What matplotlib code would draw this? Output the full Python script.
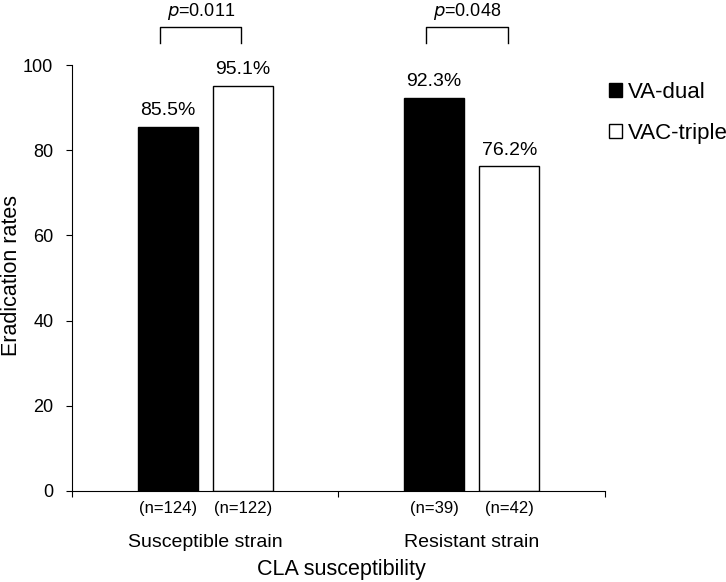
import numpy as np
import matplotlib
matplotlib.use("Agg")
import matplotlib.pyplot as plt
from matplotlib.patches import Patch

plt.rcParams['font.family'] = ['Liberation Sans', 'DejaVu Sans']

groups = ["Susceptible strain", "Resistant strain"]
dual_rates = [85.5, 92.3]
triple_rates = [95.1, 76.2]
dual_n = ["(n=124)", "(n=39)"]
triple_n = ["(n=122)", "(n=42)"]
p_values = ["0.011", "0.048"]

x = np.arange(len(groups))
width = 0.225
off = 0.141

fig = plt.figure(figsize=(7.26, 5.82), dpi=100)
ax = fig.add_axes([0.0992, 0.1564, 0.7341, 0.7319])

ax.bar(x - off, dual_rates, width, color="black", edgecolor="black", linewidth=1)
ax.bar(x + off, triple_rates, width, color="white", edgecolor="black", linewidth=1)

tr = ax.get_xaxis_transform()
for i in range(len(groups)):
    ax.text(x[i] - off, dual_rates[i] + 1.8, f"{dual_rates[i]}%", ha="center", va="bottom", fontsize=14)
    ax.text(x[i] + off, triple_rates[i] + 1.8, f"{triple_rates[i]}%", ha="center", va="bottom", fontsize=14)
    ax.text(x[i] - off, -0.04, dual_n[i], transform=tr, ha="center", va="center", fontsize=12)
    ax.text(x[i] + off, -0.04, triple_n[i], transform=tr, ha="center", va="center", fontsize=12)
    ax.text(x[i], -0.12, groups[i], transform=tr, ha="center", va="center", fontsize=14)
    # significance bracket
    bl, br = x[i] - 0.17, x[i] + 0.135
    ax.plot([bl, bl, br, br], [105.2, 108.9, 108.9, 105.2], color="black", lw=1, clip_on=False)
    ax.text((bl + br) / 2, 112.6, "$\\it{p}$=" + p_values[i], ha="center", va="center", fontsize=13)

ax.set_xlim(-0.5, 1.5)
ax.set_ylim(0, 100)
ax.set_yticks([0, 20, 40, 60, 80, 100])
ax.tick_params(axis="y", direction="out", length=4, labelsize=13, pad=9.5)
ax.set_xticks([-0.5, 0.5, 1.5])
ax.set_xticklabels([])
ax.tick_params(axis="x", direction="out", length=4)
ax.spines["top"].set_visible(False)
ax.spines["right"].set_visible(False)

ax.set_ylabel("Eradication rates", fontsize=15.5)
ax.yaxis.set_label_coords(-0.094, 0.505)
fig.text(0.4700, 1 - 570 / 582, "CLA susceptibility", ha="center", va="center", fontsize=15.5)

handles = [Patch(facecolor="black", edgecolor="black"), Patch(facecolor="white", edgecolor="black")]
fig.legend(handles, ["VA-dual", "VAC-triple"], loc="upper left", bbox_to_anchor=(0.826, 0.875),
           frameon=False, fontsize=16, handlelength=0.6, handleheight=0.6, handletextpad=0.25,
           labelspacing=0.9, borderaxespad=0)

fig.savefig("out.png", dpi=100)
